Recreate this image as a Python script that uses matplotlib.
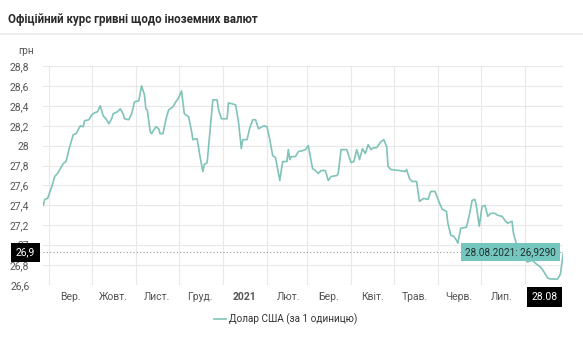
import matplotlib
matplotlib.use("Agg")
import matplotlib.pyplot as plt
import pandas as pd

plt.rcParams['font.family'] = ['Roboto', 'DejaVu Sans']

# NBU USD rate
dates = ["2020-08-28", "2020-08-29", "2020-08-31", "2020-09-03", "2020-09-05", "2020-09-07",
         "2020-09-11", "2020-09-13", "2020-09-15", "2020-09-18", "2020-09-20", "2020-09-23",
         "2020-09-25", "2020-09-26", "2020-09-29", "2020-10-01", "2020-10-03", "2020-10-05",
         "2020-10-07", "2020-10-09", "2020-10-11", "2020-10-13", "2020-10-15", "2020-10-16",
         "2020-10-19", "2020-10-21", "2020-10-23", "2020-10-24", "2020-10-27", "2020-10-29",
         "2020-10-31", "2020-11-03", "2020-11-05", "2020-11-07", "2020-11-08", "2020-11-09",
         "2020-11-11", "2020-11-12", "2020-11-15", "2020-11-17", "2020-11-18", "2020-11-20",
         "2020-11-22", "2020-11-24", "2020-11-27", "2020-11-29", "2020-12-01", "2020-12-03",
         "2020-12-05", "2020-12-08", "2020-12-10", "2020-12-11", "2020-12-14", "2020-12-16",
         "2020-12-18", "2020-12-19", "2020-12-21", "2020-12-25", "2020-12-28", "2020-12-29",
         "2020-12-31", "2021-01-04", "2021-01-05", "2021-01-10", "2021-01-12", "2021-01-14",
         "2021-01-15", "2021-01-18", "2021-01-20", "2021-01-22", "2021-01-24", "2021-01-26",
         "2021-01-30", "2021-02-01", "2021-02-03", "2021-02-05", "2021-02-07", "2021-02-10",
         "2021-02-12", "2021-02-15", "2021-02-16", "2021-02-17", "2021-02-18", "2021-02-21",
         "2021-02-23", "2021-02-26", "2021-02-28", "2021-03-02", "2021-03-05", "2021-03-07",
         "2021-03-09", "2021-03-11", "2021-03-14", "2021-03-16", "2021-03-18", "2021-03-22",
         "2021-03-23", "2021-03-25", "2021-03-29", "2021-04-01", "2021-04-03", "2021-04-05",
         "2021-04-07", "2021-04-09", "2021-04-11", "2021-04-13", "2021-04-15", "2021-04-17",
         "2021-04-19", "2021-04-22", "2021-04-24", "2021-04-26", "2021-04-27", "2021-04-29",
         "2021-05-05", "2021-05-09", "2021-05-10", "2021-05-12", "2021-05-14", "2021-05-17",
         "2021-05-19", "2021-05-22", "2021-05-25", "2021-05-27", "2021-05-30", "2021-06-01",
         "2021-06-04", "2021-06-07", "2021-06-08", "2021-06-10", "2021-06-12", "2021-06-14",
         "2021-06-15", "2021-06-17", "2021-06-21", "2021-06-23", "2021-06-25", "2021-06-27",
         "2021-06-28", "2021-06-30", "2021-07-02", "2021-07-04", "2021-07-06", "2021-07-08",
         "2021-07-11", "2021-07-13", "2021-07-16", "2021-07-18", "2021-07-20", "2021-07-23",
         "2021-07-24", "2021-07-26", "2021-07-28", "2021-07-31", "2021-08-03", "2021-08-06",
         "2021-08-10", "2021-08-12", "2021-08-15", "2021-08-17", "2021-08-19", "2021-08-24",
         "2021-08-26", "2021-08-27", "2021-08-28"]
rates = [27.40, 27.46, 27.47, 27.59, 27.69, 27.72,
         27.82, 27.84, 27.96, 28.11, 28.12, 28.20,
         28.19, 28.25, 28.26, 28.31, 28.33, 28.34,
         28.40, 28.30, 28.27, 28.22, 28.27, 28.32,
         28.34, 28.37, 28.32, 28.27, 28.26, 28.32,
         28.44, 28.45, 28.60, 28.51, 28.37, 28.36,
         28.14, 28.12, 28.19, 28.17, 28.12, 28.12,
         28.26, 28.36, 28.39, 28.44, 28.48, 28.55,
         28.32, 28.29, 28.15, 28.06, 28.07, 27.89,
         27.74, 27.81, 27.83, 28.46, 28.46, 28.36,
         28.27, 28.27, 28.43, 28.41, 28.24, 27.97,
         28.06, 28.06, 28.18, 28.26, 28.26, 28.17,
         28.20, 28.19, 28.06, 27.90, 27.88, 27.65,
         27.84, 27.84, 27.96, 27.86, 27.89, 27.89,
         27.94, 27.95, 27.96, 28.00, 27.77, 27.75,
         27.72, 27.75, 27.75, 27.65, 27.69, 27.70,
         27.72, 27.96, 27.96, 27.83, 27.84, 27.96,
         27.86, 27.97, 27.92, 28.01, 27.96, 27.98,
         27.98, 28.04, 28.06, 27.99, 27.79, 27.76,
         27.75, 27.74, 27.76, 27.67, 27.64, 27.64,
         27.44, 27.47, 27.46, 27.54, 27.54, 27.46,
         27.36, 27.34, 27.22, 27.10, 27.09, 27.05,
         27.02, 27.17, 27.18, 27.30, 27.45, 27.46,
         27.39, 27.19, 27.39, 27.40, 27.29, 27.32,
         27.32, 27.30, 27.29, 27.25, 27.22, 27.24,
         27.12, 27.02, 26.95, 26.88, 26.83, 26.85,
         26.80, 26.78, 26.72, 26.67, 26.66, 26.66,
         26.71, 26.82, 26.929]

month_labels = ["Вер.", "Жовт.", "Лист.", "Груд.", "2021", "Лют.",
                "Бер.", "Квіт.", "Трав.", "Черв.", "Лип."]
y_ticks = [26.6, 26.8, 27.0, 27.2, 27.4, 27.6, 27.8, 28.0, 28.2, 28.4, 28.6, 28.8]
last_label = "28.08"
tooltip = "28.08.2021: 26,9290"
series_name = "Долар США (за 1 одиницю)"

x = pd.to_datetime(dates)
line_color = "#80c3b9"

fig = plt.figure(figsize=(5.83, 3.5), dpi=100)
W, H = 583, 350
ax = fig.add_axes([43.3 / W, 1 - 285 / H, (563.3 - 43.3) / W, (285 - 66) / H])

ax.plot(x, rates, color=line_color, lw=1.2, zorder=3)
ax.set_xlim(x[0], x[-1])
ax.set_ylim(26.6, 28.8)

for s in ax.spines.values():
    s.set_visible(False)

month_starts = pd.date_range("2020-09-01", "2021-08-01", freq="MS")
month_mid = month_starts[:-1] + pd.Timedelta(days=15)
ax.set_xticks(month_starts)
ax.set_xticklabels([""] * len(month_starts))
ax.set_xticks(month_mid, minor=True)
ax.set_xticklabels(month_labels, minor=True)
for lab in ax.get_xticklabels(minor=True):
    if lab.get_text() == "2021":
        lab.set_fontweight("bold")
        lab.set_color("#222222")
ax.tick_params(axis="x", which="both", length=0, pad=5, labelsize=7.5, labelcolor="#555555")

ax.set_yticks(y_ticks)
ax.set_yticklabels([f"{v:g}".replace(".", ",") for v in y_ticks])
ax.tick_params(axis="y", length=0, pad=10, labelsize=7.5, labelcolor="#555555")

ax.grid(True, which="major", color="#e8e8e8", lw=0.8)
ax.set_axisbelow(True)

# crosshair at last value
ax.axhline(rates[-1], color="#9a9a9a", lw=0.8, ls=(0, (1, 2)), zorder=2)
ax.axvline(x[-1], color="#c8c8c8", lw=0.8, ls=(0, (1, 2)), zorder=2)

ax.annotate(tooltip, xy=(x[-1], rates[-1]), xytext=(-5, 0), textcoords="offset points",
            ha="right", va="center", fontsize=7.2, color="#1f2f2e", zorder=5,
            bbox=dict(boxstyle="square,pad=0.4", fc="#74c6bf", ec="none"))

# highlighted axis labels
ax.annotate("26,9", xy=(0, rates[-1]), xycoords=("axes fraction", "data"),
            xytext=(-6, 0), textcoords="offset points", ha="right", va="center",
            fontsize=7.5, color="white", zorder=6, annotation_clip=False,
            bbox=dict(boxstyle="square,pad=0.45", fc="black", ec="none"))
ax.annotate(last_label, xy=(x[-1], 0), xycoords=("data", "axes fraction"),
            xytext=(-4, -5), textcoords="offset points", ha="right", va="top",
            fontsize=7.5, color="white", zorder=6, annotation_clip=False,
            bbox=dict(boxstyle="square,pad=0.45", fc="black", ec="none"))

ax.legend([series_name], loc="center", bbox_to_anchor=(0.49, 1 - 319 / H),
          bbox_transform=fig.transFigure, frameon=False, fontsize=7.2,
          handlelength=1.2, handletextpad=0.35, labelcolor="#333333")

fig.text(8 / W, 1 - 20 / H, "Офіційний курс гривні щодо іноземних валют",
         fontsize=8.3, color="#2a2a2a", va="center", ha="left", fontweight="semibold")
fig.add_artist(plt.Line2D([0, 1], [1 - 34 / H, 1 - 34 / H], color="#eeeeee", lw=1.5))
fig.text(18 / W, 1 - 51 / H, "грн", fontsize=7.2, color="#555555", va="center", ha="left")

fig.savefig("out.png", dpi=100)
